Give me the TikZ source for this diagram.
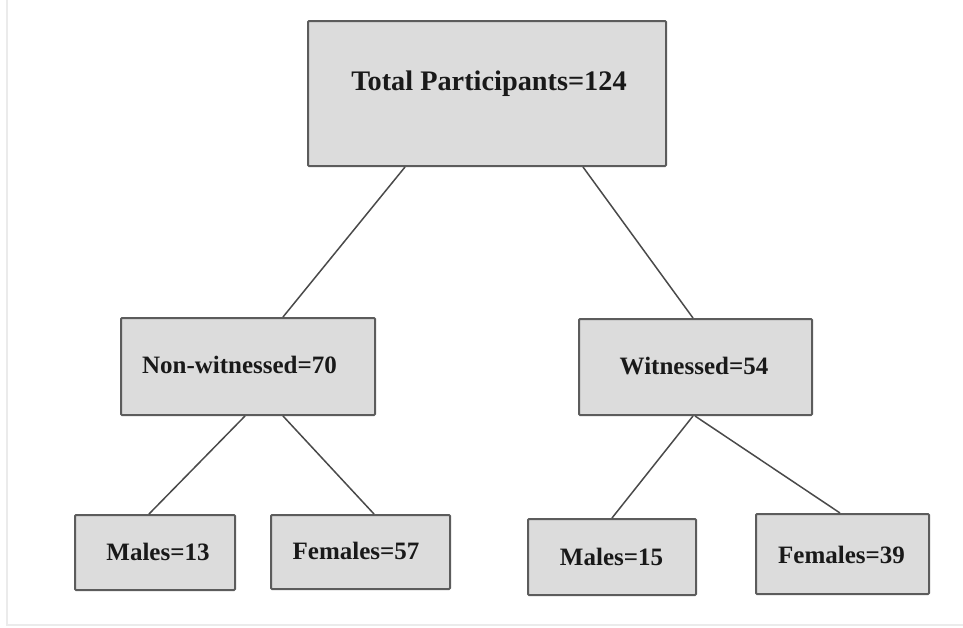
\documentclass[tikz,border=0pt]{standalone}
\usepackage{fontspec}
\setmainfont{Liberation Serif}
\usetikzlibrary{calc}
\definecolor{boxfill}{HTML}{DCDCDC}
\definecolor{boxline}{HTML}{5C5C5C}
\definecolor{linkcol}{HTML}{4A4A4A}
\definecolor{edgecol}{HTML}{EBEBEB}
\begin{document}
\begin{tikzpicture}[x=1pt,y=-1pt,
  box/.style={draw=boxline, fill=boxfill, line width=2pt, rounded corners=1pt,
              inner sep=0pt, anchor=north west},
  lbl/.style={font=\bfseries\fontsize{25}{25}\selectfont, inner sep=0pt, anchor=base, text=black!90},
  biglbl/.style={lbl, font=\bfseries\fontsize{28.3}{28.3}\selectfont},
  link/.style={draw=linkcol, line width=1.5pt}]
\useasboundingbox (0,0) rectangle (963,627);
% frame edges
\draw[edgecol, line width=1.5pt] (7,0) -- (7,625) -- (963,625);

% boxes
\node[box, minimum width=358pt, minimum height=145pt] (total) at (307,20) {};
\node[box, minimum width=254pt, minimum height=97pt]  (nonw)  at (120,317) {};
\node[box, minimum width=233pt, minimum height=96pt]  (wit)   at (578,318) {};
\node[box, minimum width=160pt, minimum height=75pt]  (m13)   at (74,514) {};
\node[box, minimum width=179pt, minimum height=74pt]  (f57)   at (270,514) {};
\node[box, minimum width=168pt, minimum height=76pt]  (m15)   at (527,518) {};
\node[box, minimum width=173pt, minimum height=80pt]  (f39)   at (755,513) {};

% labels
\node[biglbl] (ttotal) at (489,90)  {Total Participants=124};
\node[lbl]    (tnonw)  at (239.5,373) {Non-witnessed=70};
\node[lbl]    (twit)   at (694,374) {Witnessed=54};
\node[lbl]    (tm13)   at (158,560) {Males=13};
\node[lbl]    (tf57)   at (356,559) {Females=57};
\node[lbl]    (tm15)   at (611.5,565) {Males=15};
\node[lbl]    (tf39)   at (841.5,563) {Females=39};

% connectors
\draw[link] ($(total.south west)+(98,0)$)  -- ($(nonw.north west)+(163,0)$);
\draw[link] ($(total.south west)+(276,0)$) -- ($(wit.north west)+(115,0)$);
\draw[link] ($(nonw.south west)+(125,0)$)  -- ($(m13.north west)+(75,0)$);
\draw[link] ($(nonw.south west)+(163,0)$)  -- ($(f57.north west)+(104,0)$);
\draw[link] ($(wit.south west)+(115,0)$)   -- ($(m15.north west)+(85,0)$);
\draw[link] ($(wit.south west)+(117,0)$)   -- ($(f39.north west)+(85,0)$);
\end{tikzpicture}
\end{document}
